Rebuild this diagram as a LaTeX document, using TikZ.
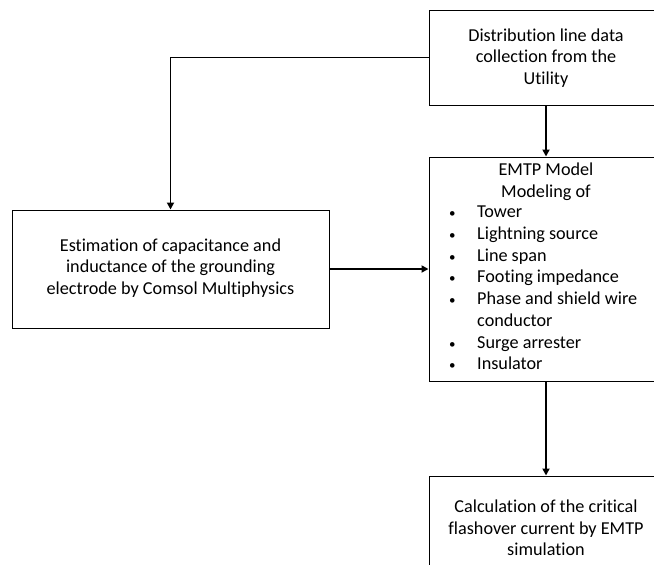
\documentclass[tikz,border=0pt]{standalone}
\usepackage{fontspec}
\setmainfont[Ligatures={NoCommon}]{Carlito}
\usetikzlibrary{arrows.meta}
\newcommand{\smbul}{{\fontsize{13}{13}\selectfont\textbullet}}
\begin{document}
\begin{tikzpicture}[x=1pt,y=-1pt,
  box/.style={draw=black, line width=1pt, rectangle, inner sep=0pt},
  txt/.style={align=center, font=\fontsize{18.2}{21.7}\selectfont, inner sep=0pt},
  conn/.style={line width=1.8pt, -{Triangle[length=7pt,width=7pt]}}]
\useasboundingbox (0,0) rectangle (654,565);
\clip (0,0) rectangle (654,565);
\node[box, minimum width=234pt, minimum height=95pt] (top) at (546,57.5) {};
\node[txt] (toptext) at (546,58) {Distribution line data\\collection from the\\Utility};
\node[box, minimum width=234pt, minimum height=224pt] (emtp) at (546,269) {};
\node[txt] (emtphead) at (546,181.5) {EMTP Model\\Modeling of};
\node[txt, align=left, anchor=west] (emtplist) at (449,289.5) {%
\begin{tabular}{@{}p{28pt}@{}l@{}}
\smbul & Tower\\
\smbul & Lightning source\\
\smbul & Line span\\
\smbul & Footing impedance\\
\smbul & Phase and shield wire\\
 & conductor\\
\smbul & Surge arrester\\
\smbul & Insulator
\end{tabular}};
\node[box, minimum width=234pt, minimum height=104pt] (bottom) at (546,528) {};
\node[txt] (bottomtext) at (546,528) {Calculation of the critical\\flashover current by EMTP\\simulation};
\node[box, minimum width=317pt, minimum height=118pt] (left) at (170.5,269) {};
\node[txt] (lefttext) at (170.5,268) {Estimation of capacitance and\\inductance of the grounding\\electrode by Comsol Multiphysics};
\draw[conn] (top.west) -| (left.north);
\draw[conn] (left.east) -- (emtp.west);
\draw[conn] (top.south) -- (emtp.north);
\draw[conn] (emtp.south) -- (bottom.north);
\end{tikzpicture}
\end{document}
